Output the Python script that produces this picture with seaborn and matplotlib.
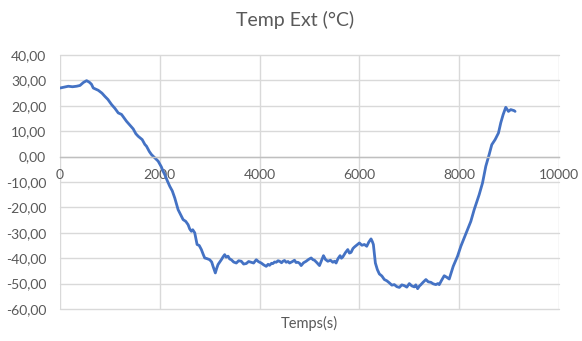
import matplotlib
matplotlib.use("Agg")
import matplotlib.pyplot as plt
import seaborn as sns
import pandas as pd

# ---- data ----
time_s = [0, 100, 167, 250, 333, 400, 470, 533, 587, 630, 667, 767, 840, 900, 960,
          1033, 1100, 1167, 1233, 1333, 1400, 1467, 1520, 1567, 1647, 1700, 1733,
          1790, 1833, 1900, 1967, 2030, 2067, 2100, 2150, 2200, 2250, 2300, 2367,
          2420, 2467, 2520, 2567, 2600, 2633, 2660, 2700, 2747, 2790, 2833, 2870,
          2900, 2950, 3000, 3040, 3067, 3113, 3140, 3167,
          3233, 3270, 3300, 3330, 3367, 3400, 3433, 3480, 3533, 3580, 3633, 3680,
          3733, 3780, 3833, 3880, 3933, 3980, 4033, 4080, 4133, 4170, 4200, 4240,
          4267, 4300, 4333, 4370, 4400, 4440, 4467, 4500, 4533, 4570, 4600, 4650,
          4700, 4730, 4767, 4800, 4833, 4880, 4933, 4980, 5033, 5070, 5100, 5150,
          5200, 5240, 5280, 5320, 5367, 5420, 5467, 5500, 5533, 5570, 5613, 5640,
          5667, 5720, 5767, 5800, 5833, 5870, 5900, 5950, 6000, 6050, 6100, 6147,
          6190, 6233, 6260, 6280,
          6320, 6360, 6400, 6450, 6500, 6550, 6600, 6650, 6700, 6750, 6800, 6850,
          6900, 6950, 7000, 7050, 7100, 7130, 7167, 7200, 7233, 7280, 7333, 7380,
          7433, 7480, 7533, 7570, 7600, 7650, 7700, 7750, 7800,
          7880, 7967, 8033, 8133, 8233, 8300, 8400, 8467,
          8533, 8600, 8653, 8720, 8787, 8833, 8880, 8933, 8987, 9033, 9100, 9120]
temp_ext = [27.0, 27.4, 27.7, 27.5, 27.7, 28.0, 29.2, 29.9, 29.3, 28.5, 27.0, 26.1,
            25.0, 23.7, 22.5, 20.5, 19.0, 17.2, 16.6, 13.9, 12.4, 10.9, 9.0, 8.0,
            6.7, 4.8, 4.1, 2.0, 0.8, -0.5, -1.8, -4.0, -5.8, -7.1, -9.5, -11.7,
            -13.5, -16.3, -20.9, -23.0, -24.8, -25.5, -26.8, -28.5, -29.4, -28.8,
            -30.0, -34.6, -35.0, -36.6, -38.5, -39.9, -40.2, -40.6, -41.5, -43.2,
            -45.8, -44.0, -42.5,
            -40.6, -39.4, -38.6, -39.6, -39.2, -40.3, -40.6, -41.5, -41.9, -41.0,
            -41.2, -42.3, -42.1, -41.3, -41.6, -41.9, -40.6, -41.4, -41.9, -42.6,
            -43.2, -42.4, -42.8, -42.0, -42.1, -41.5, -41.6, -41.0, -41.2, -41.8,
            -41.2, -40.9, -41.6, -41.3, -41.9, -41.4, -40.8, -41.7, -41.6, -42.0,
            -42.9, -41.8, -41.2, -40.5, -39.9, -40.6, -40.8, -41.8, -42.9, -41.0,
            -39.0, -40.5, -41.2, -40.8, -41.6, -41.2, -41.9, -40.2, -39.0, -40.0,
            -39.5, -37.8, -36.6, -38.0, -37.7, -36.2, -35.6, -34.8, -34.0, -34.9,
            -34.6, -35.3, -33.6, -32.4, -33.5, -34.6,
            -41.9, -44.5, -46.2, -47.0, -48.4, -48.9, -49.7, -50.6, -50.4, -51.2,
            -51.5, -50.5, -50.8, -51.4, -50.0, -50.9, -51.3, -50.5, -52.0, -51.0,
            -50.4, -49.4, -48.4, -49.3, -49.5, -50.1, -50.4, -50.0, -50.4, -48.6,
            -46.9, -47.5, -48.2,
            -43.2, -39.2, -35.3, -30.4, -25.5, -20.9, -15.0, -10.4, -3.8, 0.8, 4.7,
            6.7, 9.3, 13.3, 16.5, 19.4, 17.8, 18.5, 18.1, 17.8]
x_ticks = [0, 2000, 4000, 6000, 8000, 10000]
y_ticks = [-60, -50, -40, -30, -20, -10, 0, 10, 20, 30, 40]
title = "Temp Ext (°C)"
x_label = "Temps(s)"

df = pd.DataFrame({"Temps": time_s, "Temp": temp_ext})

sns.set_style("white")
plt.rcParams["font.family"] = ["Lato", "DejaVu Sans"]

fig = plt.figure(figsize=(5.82, 3.41), dpi=100)
W, H = 582, 341
ax = fig.add_axes([60 / W, 1 - 309 / H, (559 - 60) / W, (309 - 55) / H])

sns.lineplot(data=df, x="Temps", y="Temp", ax=ax, color="#4472C4",
             linewidth=2.0, sort=False)

ax.set_xlim(x_ticks[0], x_ticks[-1])
ax.set_ylim(y_ticks[0], y_ticks[-1])
ax.set_xticks(x_ticks)
ax.set_yticks(y_ticks)
ax.set_yticklabels([f"{v:.2f}".replace(".", ",") for v in y_ticks])
ax.set_xticklabels([str(v) for v in x_ticks])

grid_c = "#D9D9D9"
ax.grid(True, color=grid_c, linewidth=1.0)
for ln in ax.get_xgridlines() + ax.get_ygridlines():
    ln.set_clip_on(False)
for s in ["top", "right", "left"]:
    ax.spines[s].set_visible(False)
ax.spines["bottom"].set_position(("data", 0))
ax.spines["bottom"].set_color("#BFBFBF")
ax.spines["bottom"].set_linewidth(1.0)
ax.set_axisbelow(True)

txt_c = "#595959"
ax.tick_params(axis="both", length=0, labelsize=10, labelcolor=txt_c)
ax.tick_params(axis="y", pad=10)
ax.tick_params(axis="x", pad=9)

ax.set_xlabel(x_label, fontsize=10.5, color=txt_c)
ax.set_ylabel("")
ax.xaxis.set_label_coords(0.5, -0.055)
ax.xaxis.label.set_va("center")

fig.text(295.5 / W, 1 - 20 / H, title, ha="center", va="center",
         fontsize=14, color=txt_c)

fig.savefig("out.png", dpi=100)
